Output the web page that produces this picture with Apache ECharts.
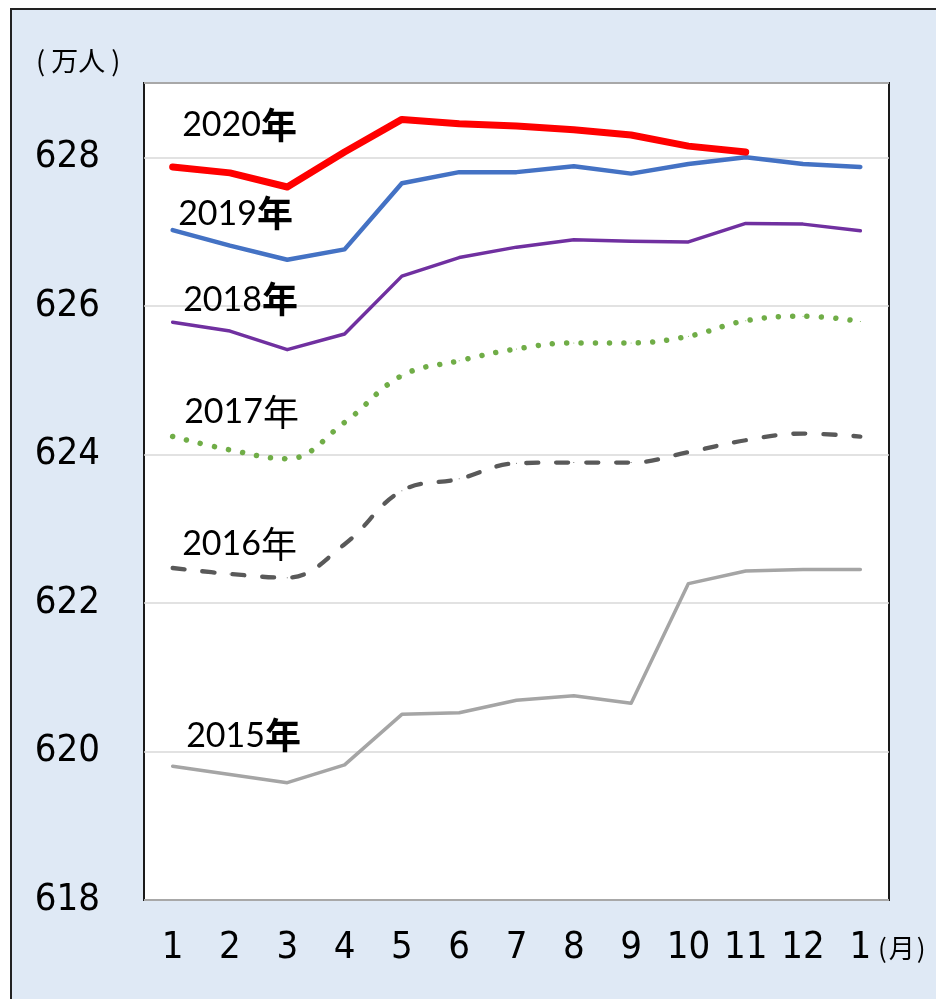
<!DOCTYPE html>
<html>
<head>
<meta charset="utf-8">
<script src="https://cdn.jsdelivr.net/npm/echarts@6/dist/echarts.min.js"></script>
<style>
  html, body { margin: 0; padding: 0; width: 936px; height: 999px; overflow: hidden; background: #fff; }
  #frame { position: absolute; left: 10px; top: 8px; width: 960px; height: 1020px; border: 2px solid #222; background: #dfe9f5; }
  #chart { position: absolute; left: 0; top: 0; width: 936px; height: 999px; }
</style>
</head>
<body>
<div id="frame"></div>
<div id="chart"></div>
<script>
// 月（1月〜翌年1月）
const months = ['1', '2', '3', '4', '5', '6', '7', '8', '9', '10', '11', '12', '1']

// 万人
const y2015 = [619.80, 619.69, 619.58, 619.82, 620.50, 620.52, 620.69, 620.75, 620.65, 622.26, 622.43, 622.45, 622.45]
const y2016 = [622.47, 622.39, 622.34, 622.79, 623.51, 623.67, 623.88, 623.89, 623.89, 624.03, 624.19, 624.28, 624.24]
const y2017 = [624.24, 624.06, 623.94, 624.43, 625.06, 625.26, 625.42, 625.50, 625.50, 625.59, 625.80, 625.86, 625.79]
const y2018 = [625.78, 625.66, 625.41, 625.62, 626.40, 626.65, 626.79, 626.89, 626.87, 626.86, 627.11, 627.10, 627.01]
const y2019 = [627.02, 626.81, 626.62, 626.76, 627.65, 627.80, 627.80, 627.88, 627.78, 627.91, 628.00, 627.91, 627.87]
const y2020 = [627.87, 627.79, 627.60, 628.07, 628.51, 628.45, 628.42, 628.37, 628.30, 628.15, 628.07, null, null]

const narrow = '"Liberation Sans Narrow", "DejaVu Sans Condensed", sans-serif'
const cjk = '"Noto Sans CJK JP", sans-serif'

function yearLabel(year, boldNen, dx, dy) {
  return {
    show: true,
    position: [dx, dy],
    align: 'left',
    verticalAlign: 'middle',
    formatter: function(p) {
      return p.dataIndex === 0 ? '{n|' + year + '}{' + (boldNen ? 'b' : 'r') + '|年}' : ''
    },
    rich: {
      n: { fontFamily: 'Lato, "Noto Sans", sans-serif', fontSize: 34, color: '#000', lineHeight: 40 },
      b: { fontFamily: cjk, fontSize: 36, fontWeight: 'bold', color: '#000', lineHeight: 40 },
      r: { fontFamily: cjk, fontSize: 36, fontWeight: 'normal', color: '#000', lineHeight: 40 }
    }
  }
}

function line(name, data, color, width, opts) {
  return Object.assign({
    name: name,
    type: 'line',
    data: data,
    symbol: 'circle',
    symbolSize: 1,
    showSymbol: true,
    itemStyle: { color: color },
    lineStyle: { color: color, width: width, cap: 'round', join: 'round' },
    emphasis: { disabled: true },
    connectNulls: false
  }, opts)
}

const chart = echarts.init(document.getElementById('chart'), null, { renderer: 'canvas' })
chart.setOption({
  animation: false,
  backgroundColor: 'transparent',
  title: [{
    text: '{p|(}{c|万人}{p|)}',
    left: 25,
    top: 42,
    textStyle: {
      fontWeight: 'normal',
      rich: {
        p: { fontFamily: cjk, fontSize: 27, fontWeight: 'normal', color: '#000', padding: [0, 6, 0, 6] },
        c: { fontFamily: cjk, fontSize: 27, fontWeight: 'normal', color: '#000' }
      }
    }
  }, {
    text: '{p|(}{c|月}{p|)}',
    left: 871,
    top: 930,
    textStyle: {
      fontWeight: 'normal',
      rich: {
        p: { fontFamily: cjk, fontSize: 26, fontWeight: 'normal', color: '#000', padding: [0, 2, 0, 2] },
        c: { fontFamily: cjk, fontSize: 26, fontWeight: 'normal', color: '#000' }
      }
    }
  }],
  grid: {
    left: 144,
    right: 47,
    top: 83,
    bottom: 99,
    show: true,
    backgroundColor: '#fff',
    borderColor: '#1a1a1a',
    borderWidth: 2
  },
  xAxis: {
    type: 'category',
    data: months,
    boundaryGap: true,
    axisLine: { show: false },
    axisTick: { show: false },
    axisLabel: { interval: 0, margin: 29, color: '#000', fontFamily: narrow, fontSize: 38 }
  },
  yAxis: {
    type: 'value',
    min: 618,
    max: 629,
    interval: 2,
    axisLine: { show: false },
    axisTick: { show: false },
    axisLabel: {
      margin: 44,
      color: '#000',
      fontFamily: narrow,
      fontSize: 38,
      formatter: function(v) { return v % 2 === 0 ? v : '' }
    },
    splitLine: { lineStyle: { color: '#d9d9d9', width: 1.5 } }
  },
  series: [
    line('2015年', y2015, '#a5a5a5', 3.5, { label: yearLabel('2015', true, 14, -30) }),
    line('2016年', y2016, '#595959', 4.3, {
      smooth: 0.4,
      lineStyle: { color: '#595959', width: 4.3, type: [12, 18], cap: 'round', join: 'round' },
      label: yearLabel('2016', false, 10, -23)
    }),
    line('2017年', y2017, '#70ad47', 5.5, {
      smooth: 0.4,
      lineStyle: { color: '#70ad47', width: 5.5, type: [0.01, 14.3], cap: 'round', join: 'round' },
      label: yearLabel('2017', false, 12, -24)
    }),
    line('2018年', y2018, '#7030a0', 3.5, { label: yearLabel('2018', true, 11, -22) }),
    line('2019年', y2019, '#4472c4', 4.5, { label: yearLabel('2019', true, 6, -16) }),
    line('2020年', y2020, '#ff0000', 7, { label: yearLabel('2020', true, 10, -41) })
  ]
})
</script>
</body>
</html>
